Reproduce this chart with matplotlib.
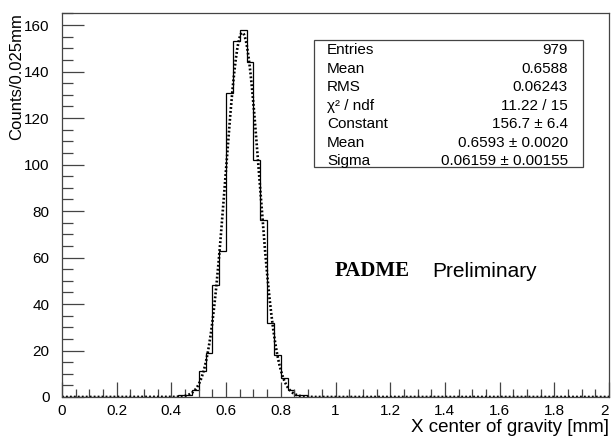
import numpy as np
import matplotlib
matplotlib.use("Agg")
import matplotlib.pyplot as plt
import matplotlib.transforms as mtransforms
from matplotlib.patches import Rectangle

# histogram: 80 bins of 0.025 mm between 0 and 2 mm
x_lo = 0.0
x_hi = 2.0
counts = [
    0, 0, 0, 0, 0, 0, 0, 0, 0, 0,
    0, 0, 0, 0, 0, 0, 0, 1, 1, 3,
    11, 19, 48, 63, 131, 153, 158, 144, 102, 76,
    32, 18, 8, 3, 1, 1, 0, 0, 0, 0,
    0, 0, 0, 0, 0, 0, 0, 0, 0, 0,
    0, 0, 0, 0, 0, 0, 0, 0, 0, 0,
    0, 0, 0, 0, 0, 0, 0, 0, 0, 0,
    0, 0, 0, 0, 0, 0, 0, 0, 0, 0,
]

# gaussian fit results
g_const = 156.7
g_mean = 0.6593
g_sigma = 0.06159

stat_names = ["Entries", "Mean", "RMS", "\u03c7\u00b2 / ndf", "Constant", "Mean", "Sigma"]
stat_vals = ["979", "0.6588", "0.06243", "11.22 / 15", "156.7 \u00b1 6.4",
             "0.6593 \u00b1 0.0020", "0.06159 \u00b1 0.00155"]

plt.rcParams["font.family"] = ["Liberation Sans", "DejaVu Sans"]

fig = plt.figure(figsize=(6.11, 4.41), dpi=100)
ax = fig.add_axes([0.1015, 0.0998, 0.8952, 0.8707])

edges = np.linspace(x_lo, x_hi, len(counts) + 1)
ax.stairs(counts, edges, color="k", lw=0.9)

xf = np.linspace(x_lo, x_hi, 1200)
yf = g_const * np.exp(-0.5 * ((xf - g_mean) / g_sigma) ** 2)
ax.plot(xf, yf, color="k", lw=1.9, ls=(0, (0.7, 0.8)))

ax.set_xlim(x_lo, x_hi)
ax.set_ylim(0, 165.2)
ax.set_xticks(np.arange(0, 2.01, 0.2))
ax.set_xticks(np.arange(0, 2.01, 0.05), minor=True)
ax.set_xticklabels(["%g" % v for v in np.arange(0, 2.01, 0.2).round(1)])
ax.set_yticks(np.arange(0, 161, 20))
ax.set_yticks(np.arange(0, 166, 5), minor=True)

fsz = 11
ax.tick_params(which="both", direction="in", top=False, right=False,
               color="#444444", labelsize=fsz)
ax.tick_params(axis="x", which="major", length=11, width=0.9, pad=5)
ax.tick_params(axis="x", which="minor", length=5.5, width=0.9)
ax.tick_params(axis="y", which="major", length=16, width=0.9, pad=9)
ax.tick_params(axis="y", which="minor", length=8, width=0.9)
for sp in ax.spines.values():
    sp.set_color("#444444")
    sp.set_linewidth(0.9)

# keep the last x label inside the canvas
last = ax.get_xticklabels()[-1]
last.set_transform(last.get_transform() +
                   mtransforms.ScaledTranslation(-3 / 72, 0, fig.dpi_scale_trans))

ax.set_xlabel("X center of gravity [mm]", fontsize=13.5, loc="right", labelpad=1)
ax.set_ylabel("Counts/0.025mm", fontsize=12, loc="top")
ax.yaxis.set_label_coords(-0.07, 1.0)

# stats box
ax.add_patch(Rectangle((0.4607, 0.599), 0.4918, 0.3307, transform=ax.transAxes,
                       fill=True, facecolor="white", edgecolor="#444444", lw=0.9))
for i, (n, v) in enumerate(zip(stat_names, stat_vals)):
    yy = 0.903 - i * 0.0482
    ax.text(0.4845, yy, n, transform=ax.transAxes, fontsize=fsz, va="center", ha="left")
    ax.text(0.925, yy, v, transform=ax.transAxes, fontsize=fsz, va="center", ha="right")

ax.text(0.499, 0.327, "PADME", transform=ax.transAxes, fontsize=15,
        family="Liberation Serif", weight="bold", va="center", ha="left")
ax.text(0.676, 0.327, "Preliminary", transform=ax.transAxes, fontsize=15,
        va="center", ha="left")

fig.savefig("out.png", dpi=100)
